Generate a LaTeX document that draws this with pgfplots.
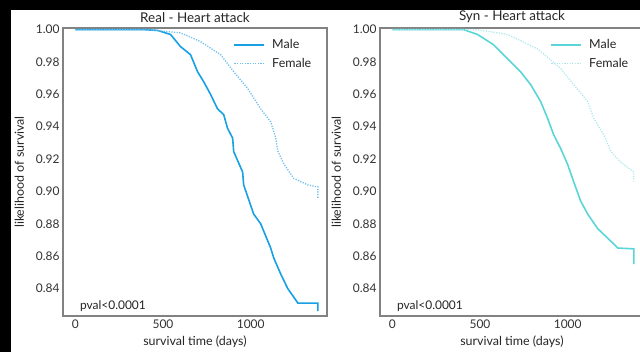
\documentclass[border=0pt]{standalone}
\usepackage{pgfplots}
\pgfplotsset{compat=1.18}
\usepackage{fontspec}
\setmainfont{Lato}
\definecolor{realc}{RGB}{24,160,228}
\definecolor{realf}{RGB}{110,190,235}
\definecolor{sync}{RGB}{90,214,216}
\definecolor{synf}{RGB}{175,232,234}
\definecolor{spine}{RGB}{130,130,130}
\pgfplotsset{
  kmstyle/.style={
    scale only axis, width=264bp, height=288bp, anchor=south west,
    xmin=-70, xmax=1435, ymin=0.823, ymax=1.001,
    xtick={0,500,1000},
    ytick={0.84,0.86,0.88,0.90,0.92,0.94,0.96,0.98,1.00},
    xticklabel style={/pgf/number format/.cd, set thousands separator={}},
    yticklabel style={/pgf/number format/.cd, fixed, fixed zerofill, precision=2},
    /pgf/number format/assume math mode=true,
    major tick length=0pt,
    axis line style={spine, line width=1.2bp},
    tick label style={font=\fontsize{12}{14}\selectfont, text=black!80},
    label style={font=\fontsize{12.5}{14}\selectfont, text=black!85},
    title style={font=\fontsize{13.5}{15}\selectfont, text=black!85, yshift=-4bp},
    xlabel={survival time (days)},
    ylabel={likelihood of survival},
    xlabel style={yshift=-1bp},
    ylabel style={yshift=5bp},
    legend style={draw=none, fill=none, at={(0.96,0.975)}, anchor=north east,
      font=\fontsize{12.5}{15}\selectfont, text=black!85, row sep=4bp,
      /tikz/every odd column/.append style={column sep=5bp}},
    legend cell align=left,
    legend image code/.code={\draw[##1] (0bp,0bp) -- (30bp,0bp);},
    clip=false,
  },
}
\begin{document}
\begin{tikzpicture}
\fill[black] (0bp,0bp) rectangle (640bp,352bp);
\fill[white] (11bp,0bp) rectangle (640bp,342bp);
\useasboundingbox (0bp,0bp) rectangle (640bp,352bp);
\begin{axis}[kmstyle, at={(63bp,36bp)}, title={Real - Heart attack}]
\addplot[realc, line width=1.6bp] coordinates {
(0,1.000) (390,1.000) (470,0.9995) (543,0.997) (600,0.9895) (657,0.9845)
(697,0.974) (731,0.968) (771,0.960) (811,0.951) (846,0.9475) (868,0.939)
(897,0.933) (903,0.9246) (954,0.912) (960,0.904) (1017,0.886) (1057,0.880)
(1114,0.865) (1131,0.859) (1171,0.849) (1211,0.840) (1269,0.831) (1383,0.831) (1383,0.826)};
\addlegendentry{Male}
\addplot[realf, line width=1.3bp, dash pattern=on 1.2bp off 1.4bp] coordinates {
(0,1.000) (410,1.000) (600,0.998) (714,0.9926) (829,0.9845) (903,0.974)
(983,0.9636) (1057,0.951) (1114,0.943) (1143,0.933) (1154,0.925) (1189,0.917)
(1246,0.908) (1326,0.904) (1371,0.903) (1383,0.903) (1383,0.896)};
\addlegendentry{Female}
\node[anchor=south west, font=\fontsize{12}{14}\selectfont, text=black!85, inner sep=1bp] at (rel axis cs:0.06,0.01) {pval<0.0001};
\end{axis}
\begin{axis}[kmstyle, at={(380bp,36bp)}, title={Syn - Heart attack}]
\addplot[sync, line width=1.6bp] coordinates {
(0,1.000) (406,1.000) (486,0.997) (577,0.9907) (657,0.982) (731,0.974)
(789,0.966) (846,0.9555) (886,0.945) (920,0.935) (960,0.9265) (1000,0.9166)
(1034,0.906) (1074,0.894) (1114,0.886) (1171,0.877) (1229,0.871) (1286,0.865)
(1377,0.8645) (1377,0.855)};
\addlegendentry{Male}
\addplot[synf, line width=1.3bp, dash pattern=on 1.2bp off 1.4bp] coordinates {
(0,1.000) (470,1.000) (543,0.999) (657,0.997) (829,0.988) (960,0.976)
(1034,0.966) (1114,0.9555) (1149,0.945) (1206,0.935) (1246,0.9246) (1303,0.918)
(1377,0.912) (1377,0.906)};
\addlegendentry{Female}
\node[anchor=south west, font=\fontsize{12}{14}\selectfont, text=black!85, inner sep=1bp] at (rel axis cs:0.06,0.01) {pval<0.0001};
\end{axis}
\end{tikzpicture}
\end{document}
